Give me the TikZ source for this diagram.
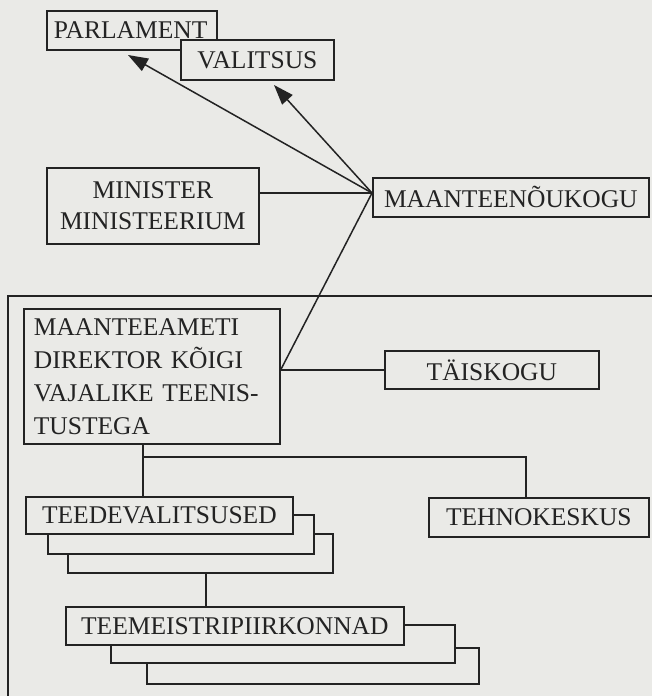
\documentclass[tikz,border=0pt]{standalone}
\usepackage{fontspec}
\setmainfont{Liberation Serif}
\usetikzlibrary{arrows.meta,calc}
\definecolor{paper}{RGB}{234,234,231}
\definecolor{ink}{RGB}{35,35,35}
\tikzset{
  box/.style={draw=ink, fill=paper, line width=1.7pt, inner sep=0pt, anchor=north west,
    text=ink, font=\fontsize{25.5}{33}\selectfont},
  conn/.style={draw=ink, line width=1.5pt},
  arr/.style={conn, -{Triangle[length=20pt,width=14pt]}},
  frameline/.style={draw=ink, line width=1.4pt}
}
\begin{document}
\begin{tikzpicture}[x=1pt,y=-1pt]
\fill[paper] (0,0) rectangle (652,696);
\useasboundingbox (0,0) rectangle (652,696);
\clip (0,0) rectangle (652,696);
\draw[frameline] (8,710) -- (8,296) -- (670,296);

% top boxes
\node[box, text width=156pt, inner xsep=7pt, minimum height=39pt, align=left] (parl) at (46,10) {PARLAMENT};
\node[box, minimum width=153pt, minimum height=40pt] (val) at (180,39) {VALITSUS};
\node[box, minimum width=212pt, minimum height=76pt, align=center, font=\fontsize{25.5}{32}\selectfont] (min) at (46,167) {MINISTER\\[-1pt]MINISTEERIUM};
\node[box, minimum width=276pt, minimum height=39pt] (mtk) at (372,177) {MAANTEENÕUKOGU};

% main office
\node[box, text width=236pt, inner xsep=10pt, minimum height=135pt, align=left] (ma) at (23,308)
  {MAANTEEAMETI\\DIREKTOR KÕIGI\\VAJALIKE TEENIS-\\TUSTEGA};
\node[box, minimum width=214pt, minimum height=38pt] (tk) at (384,350) {TÄISKOGU};

% teedevalitsused stack
\node[box, minimum width=265pt, minimum height=39pt] (tv3) at (67,533) {};
\node[box, minimum width=266pt, minimum height=39pt] (tv2) at (47,514) {};
\node[box, minimum width=267pt, minimum height=37pt] (tv) at (25,496) {TEEDEVALITSUSED};

\node[box, minimum width=220pt, minimum height=39pt] (tek) at (428,497) {TEHNOKESKUS};

% teemeistripiirkonnad stack
\node[box, minimum width=332pt, minimum height=36pt] (tm3) at (146,647) {};
\node[box, minimum width=344pt, minimum height=38pt] (tm2) at (110,624) {};
\node[box, minimum width=338pt, minimum height=38pt] (tm) at (65,606) {TEEMEISTRIPIIRKONNAD};

% connectors
\coordinate (hub) at (372,193);
\coordinate (pa) at (128,55);
\coordinate (va) at (274,85);
\coordinate (jx) at (143,457);
\coordinate (kx) at (526,0);
\coordinate (sx) at (206,0);

\draw[conn] (hub) -- (hub -| min.east);
\draw[arr] (hub) -- (pa);
\draw[arr] (hub) -- (va);
\draw[conn] (hub) -- (tk.west -| ma.east);
\draw[conn] (tk.west) -- (tk.west -| ma.east);
\draw[conn] (jx |- ma.south) -- (jx |- tv.north);
\draw[conn] (jx) -| (tek.north -| kx);
\draw[conn] (tv3.south -| sx) -- (tm.north -| sx);
\end{tikzpicture}
\end{document}
